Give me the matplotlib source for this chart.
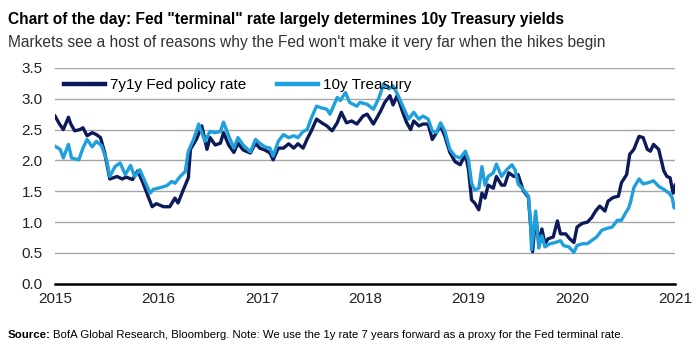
import matplotlib
matplotlib.use("Agg")
import matplotlib.pyplot as plt
from matplotlib import font_manager

# data (decimal years)
fed_dates = [2015.00, 2015.04, 2015.08, 2015.13, 2015.15, 2015.19, 2015.24, 2015.27, 2015.31, 2015.36,
             2015.40, 2015.44, 2015.48, 2015.53, 2015.60, 2015.65, 2015.69, 2015.75, 2015.80, 2015.85,
             2015.90, 2015.94, 2015.98, 2016.05, 2016.11, 2016.16, 2016.19, 2016.24, 2016.29, 2016.31,
             2016.37, 2016.42, 2016.47, 2016.50, 2016.55, 2016.60, 2016.63, 2016.68, 2016.73, 2016.77,
             2016.82, 2016.89, 2016.94, 2016.98, 2017.03, 2017.08, 2017.11, 2017.16, 2017.21, 2017.26,
             2017.31, 2017.35, 2017.40, 2017.44, 2017.48, 2017.53, 2017.58, 2017.63, 2017.68, 2017.73,
             2017.77, 2017.82, 2017.87, 2017.92, 2017.98, 2018.02, 2018.08, 2018.15, 2018.19, 2018.24,
             2018.27, 2018.31, 2018.36, 2018.40, 2018.44, 2018.47, 2018.52, 2018.56, 2018.61, 2018.65,
             2018.69, 2018.73, 2018.77, 2018.82, 2018.87, 2018.92, 2018.97, 2019.00, 2019.03, 2019.06,
             2019.10, 2019.13, 2019.16, 2019.19, 2019.24, 2019.27, 2019.32, 2019.35, 2019.39, 2019.44,
             2019.48, 2019.53, 2019.58, 2019.60, 2019.62, 2019.65, 2019.68, 2019.71, 2019.74, 2019.77,
             2019.82, 2019.86, 2019.89, 2019.94, 2019.98, 2020.02, 2020.05, 2020.10, 2020.15, 2020.19,
             2020.23, 2020.27, 2020.32, 2020.35, 2020.40, 2020.45, 2020.48, 2020.53, 2020.56, 2020.60,
             2020.65, 2020.69, 2020.73, 2020.76, 2020.79, 2020.84, 2020.89, 2020.92, 2020.95, 2020.98,
             2021.00]
fed_rate = [2.72, 2.60, 2.50, 2.70, 2.60, 2.48, 2.50, 2.53, 2.40, 2.45,
            2.42, 2.37, 2.13, 1.70, 1.74, 1.70, 1.73, 1.69, 1.83, 1.64,
            1.42, 1.25, 1.30, 1.25, 1.25, 1.39, 1.31, 1.52, 1.72, 2.18,
            2.35, 2.56, 2.18, 2.37, 2.25, 2.28, 2.45, 2.25, 2.13, 2.28,
            2.17, 2.12, 2.28, 2.20, 2.17, 2.12, 2.01, 2.20, 2.20, 2.27,
            2.20, 2.27, 2.20, 2.35, 2.48, 2.67, 2.61, 2.56, 2.48, 2.61,
            2.78, 2.61, 2.64, 2.59, 2.72, 2.75, 2.59, 2.80, 2.94, 3.05,
            2.90, 3.05, 2.80, 2.62, 2.50, 2.64, 2.56, 2.59, 2.59, 2.34,
            2.45, 2.56, 2.40, 2.13, 1.98, 1.93, 2.10, 1.85, 1.36, 1.31,
            1.20, 1.47, 1.39, 1.60, 1.55, 1.74, 1.60, 1.60, 1.80, 1.74,
            1.77, 1.51, 1.40, 0.97, 0.52, 1.10, 0.67, 0.89, 0.65, 0.73,
            0.76, 1.02, 0.81, 0.81, 0.73, 0.67, 0.92, 0.98, 1.00, 1.07,
            1.18, 1.26, 1.18, 1.34, 1.40, 1.42, 1.64, 1.77, 2.10, 2.18,
            2.39, 2.37, 2.18, 2.15, 2.26, 2.18, 1.83, 1.74, 1.72, 1.47,
            1.60]

tsy_dates = [2015.00, 2015.05, 2015.08, 2015.13, 2015.16, 2015.23, 2015.27, 2015.31, 2015.36, 2015.40,
             2015.45, 2015.50, 2015.53, 2015.58, 2015.63, 2015.68, 2015.73, 2015.77, 2015.82, 2015.87,
             2015.92, 2015.95, 2016.02, 2016.08, 2016.13, 2016.16, 2016.21, 2016.26, 2016.29, 2016.34,
             2016.39, 2016.45, 2016.50, 2016.55, 2016.60, 2016.63, 2016.68, 2016.73, 2016.77, 2016.82,
             2016.89, 2016.94, 2016.98, 2017.03, 2017.08, 2017.11, 2017.16, 2017.21, 2017.26, 2017.31,
             2017.35, 2017.40, 2017.44, 2017.48, 2017.53, 2017.58, 2017.63, 2017.66, 2017.73, 2017.76,
             2017.81, 2017.85, 2017.92, 2017.95, 2018.02, 2018.08, 2018.13, 2018.18, 2018.23, 2018.27,
             2018.32, 2018.37, 2018.42, 2018.47, 2018.52, 2018.56, 2018.61, 2018.65, 2018.69, 2018.73,
             2018.77, 2018.82, 2018.87, 2018.92, 2018.97, 2019.00, 2019.03, 2019.06, 2019.10, 2019.13,
             2019.16, 2019.19, 2019.24, 2019.27, 2019.32, 2019.37, 2019.42, 2019.45, 2019.48, 2019.53,
             2019.58, 2019.60, 2019.61, 2019.65, 2019.68, 2019.71, 2019.74, 2019.79, 2019.84, 2019.89,
             2019.92, 2019.97, 2020.02, 2020.05, 2020.10, 2020.15, 2020.19, 2020.24, 2020.29, 2020.34,
             2020.39, 2020.44, 2020.48, 2020.52, 2020.55, 2020.57, 2020.60, 2020.65, 2020.69, 2020.74,
             2020.79, 2020.84, 2020.89, 2020.94, 2020.97, 2020.99, 2021.00]
tsy_yield = [2.23, 2.18, 2.04, 2.26, 2.04, 2.01, 2.20, 2.34, 2.22, 2.31,
             2.24, 2.00, 1.74, 1.90, 1.96, 1.77, 1.92, 1.74, 1.85, 1.66,
             1.47, 1.53, 1.56, 1.59, 1.66, 1.63, 1.74, 1.82, 2.15, 2.34,
             2.59, 2.31, 2.47, 2.45, 2.47, 2.62, 2.40, 2.20, 2.37, 2.25,
             2.14, 2.34, 2.28, 2.22, 2.20, 2.07, 2.31, 2.42, 2.37, 2.40,
             2.37, 2.47, 2.50, 2.69, 2.88, 2.85, 2.83, 2.75, 3.02, 2.97,
             3.10, 2.94, 2.88, 2.94, 2.91, 2.83, 3.00, 3.24, 3.16, 3.21,
             3.05, 2.86, 2.67, 2.78, 2.67, 2.72, 2.67, 2.48, 2.45, 2.61,
             2.48, 2.18, 2.07, 2.04, 2.15, 2.01, 1.63, 1.52, 1.55, 1.90,
             1.60, 1.74, 1.80, 1.94, 1.74, 1.85, 1.93, 1.85, 1.62, 1.53,
             1.42, 1.00, 0.55, 1.18, 0.58, 0.78, 0.60, 0.65, 0.67, 0.70,
             0.62, 0.60, 0.51, 0.62, 0.65, 0.65, 0.70, 0.76, 0.87, 0.90,
             0.92, 1.03, 1.03, 1.15, 1.23, 1.34, 1.56, 1.70, 1.62, 1.64,
             1.67, 1.58, 1.53, 1.47, 1.40, 1.23, 1.29]

years = [2015, 2016, 2017, 2018, 2019, 2020, 2021]
yticks = [0.0, 0.5, 1.0, 1.5, 2.0, 2.5, 3.0, 3.5]

dark = "#0d1a5a"
light = "#1fa0dc"

installed = {f.name for f in font_manager.fontManager.ttflist}
narrow = "Liberation Sans Narrow" if "Liberation Sans Narrow" in installed else "Liberation Sans"
plt.rcParams["font.family"] = [narrow, "DejaVu Sans"]

fig = plt.figure(figsize=(7, 3.5), dpi=100)
ax = fig.add_axes([0.0786, 0.189, 0.886, 0.617])

ax.plot(fed_dates, fed_rate, color=dark, lw=2.4, label="7y1y Fed policy rate")
ax.plot(tsy_dates, tsy_yield, color=light, lw=2.4, label="10y Treasury")

ax.set_xlim(2015, 2021)
ax.set_ylim(0, 3.5)
ax.set_xticks(years)
ax.set_xticklabels([str(y) for y in years])
ax.set_yticks(yticks)
ax.set_yticklabels([f"{v:.1f}" for v in yticks])
ax.yaxis.grid(True, color="#a6a6a6", lw=1)
ax.set_axisbelow(True)
for s in ["top", "right", "left"]:
    ax.spines[s].set_visible(False)
ax.spines["bottom"].set_color("black")
ax.spines["bottom"].set_linewidth(1.8)
ax.tick_params(length=0, labelsize=11, colors="#222222")
ax.tick_params(axis="x", pad=6)
ax.tick_params(axis="y", pad=9)

leg = ax.legend(loc="upper left", bbox_to_anchor=(0.0, 0.995), ncol=2, frameon=False,
                fontsize=11, handlelength=2.7, handletextpad=0.3, columnspacing=2.0,
                borderaxespad=0.2)
for h in leg.get_lines():
    h.set_linewidth(3.2)

fig.text(0.011, 0.945, 'Chart of the day: Fed "terminal" rate largely determines 10y Treasury yields',
         fontsize=11.2, fontweight="bold", color="black", va="center")
fig.text(0.011, 0.88, "Markets see a host of reasons why the Fed won't make it very far when the hikes begin",
         fontsize=11.2, color="#333333", va="center")

src = fig.text(0.011, 0.043, "Source:", fontsize=8.2, fontweight="bold", va="center")
fig.canvas.draw()
bb = src.get_window_extent(fig.canvas.get_renderer())
fig.text(bb.x1 / fig.bbox.width + 0.003, 0.043,
         "BofA Global Research, Bloomberg. Note: We use the 1y rate 7 years forward as a proxy for the Fed terminal rate.",
         fontsize=8.2, va="center")

fig.savefig("out.png", dpi=100)
